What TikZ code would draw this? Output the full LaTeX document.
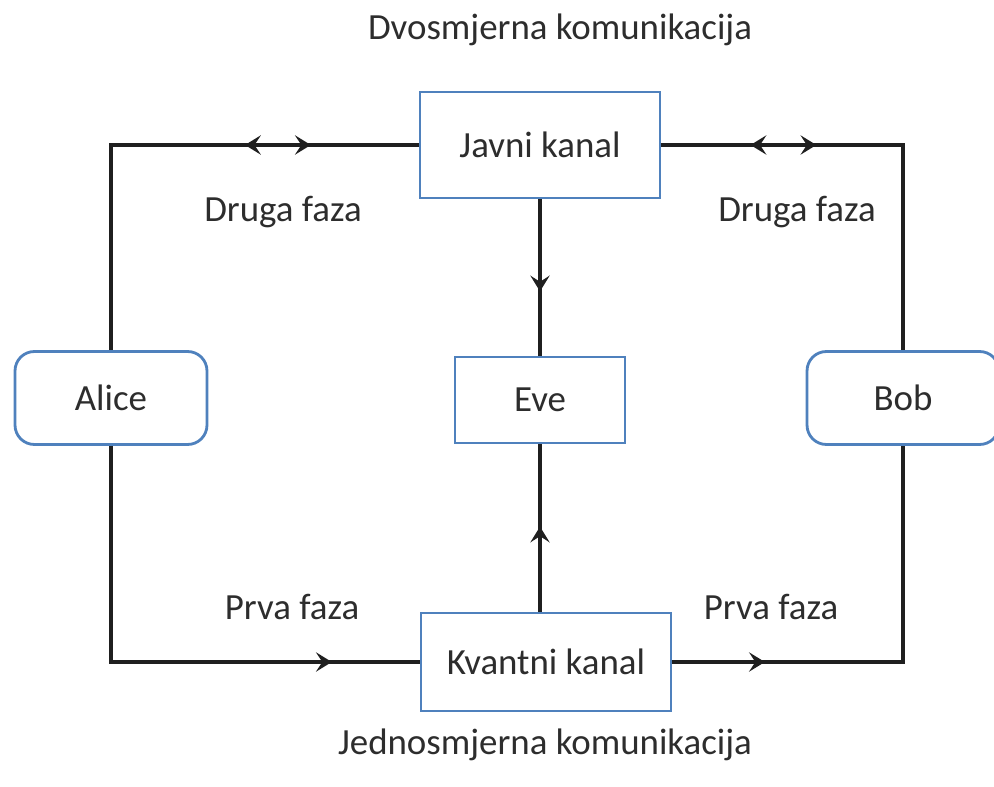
\documentclass[tikz,border=0pt]{standalone}
\usepackage{fontspec}
\setmainfont{Carlito}
\usetikzlibrary{arrows.meta, positioning, decorations.markings}
\definecolor{boxblue}{RGB}{79,129,189}
\definecolor{txtgray}{RGB}{45,45,45}

\begin{document}
\begin{tikzpicture}[
    x=0.02cm, y=-0.02cm,
    >={Stealth[length=9pt, width=11pt, inset=3.6pt]},
    font=\fontsize{21}{25}\selectfont,
    chan/.style={rectangle, draw=boxblue, line width=1.6pt, fill=white, text=txtgray, text centered},
    party/.style={chan, rounded corners=11pt},
    link/.style={line width=2.2pt, black!88},
    lbl/.style={text=txtgray}
]
\useasboundingbox (0,0) rectangle (994,787);

% Channels and Eve
\node[chan, minimum width=4.8cm, minimum height=2.12cm] (javni) at (540,145) {Javni kanal};
\node[chan, minimum width=3.4cm, minimum height=1.72cm] (eve) at (540,400) {Eve};
\node[chan, minimum width=5cm, minimum height=1.96cm] (kvant) at (546,662) {Kvantni kanal};

% Parties
\node[party, minimum width=3.84cm, minimum height=1.86cm] (alice) at (111,398) {Alice};
\node[party, minimum width=3.84cm, minimum height=1.86cm] (bob) at (903,398) {Bob};

% Corners of the loop
\coordinate (tl) at (alice.north |- javni.west);
\coordinate (tr) at (bob.north |- javni.east);
\coordinate (bl) at (alice.south |- kvant.west);
\coordinate (br) at (bob.south |- kvant.east);
\coordinate (kv) at (eve.south |- kvant.north);

% Connections
\draw[link, postaction={decorate}, decoration={markings,
    mark=at position 7.1cm with {\arrow{<}},
    mark=at position 8.1cm with {\arrow{>}}}]
    (alice.north) -- (tl) -- (javni.west);
\draw[link, postaction={decorate}, decoration={markings,
    mark=at position 2.1cm with {\arrow{<}},
    mark=at position 3.1cm with {\arrow{>}}}]
    (javni.east) -- (tr) -- (bob.north);
\draw[link, postaction={decorate}, decoration={markings,
    mark=at position 8.74cm with {\arrow{>}}}]
    (alice.south) -- (bl) -- (kvant.west);
\draw[link, postaction={decorate}, decoration={markings,
    mark=at position 1.85cm with {\arrow{>}}}]
    (kvant.east) -- (br) -- (bob.south);
\draw[link, postaction={decorate}, decoration={markings,
    mark=at position 1.84cm with {\arrow{>}}}]
    (javni.south) -- (eve.north);
\draw[link, postaction={decorate}, decoration={markings,
    mark=at position 1.7cm with {\arrow{>}}}]
    (kv) -- (eve.south);

% Labels
\node[lbl] (dvo) at (560,30) {Dvosmjerna komunikacija};
\node[lbl] (jedno) at (545,745) {Jednosmjerna komunikacija};
\node[lbl] (druga1) at (283,212) {Druga faza};
\node[lbl] (druga2) at (797,212) {Druga faza};
\node[lbl] (prva1) at (292,607) {Prva faza};
\node[lbl] (prva2) at (771,607) {Prva faza};

\end{tikzpicture}
\end{document}
